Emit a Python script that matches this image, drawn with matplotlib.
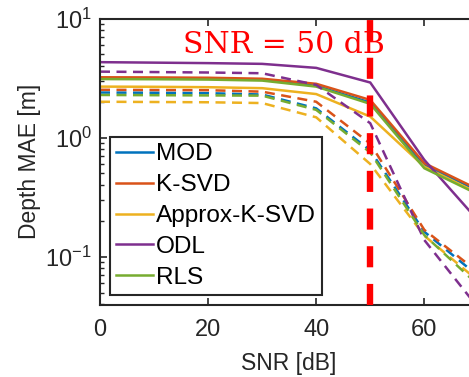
import matplotlib
matplotlib.use("Agg")
import matplotlib.pyplot as plt
from matplotlib.ticker import LogLocator, NullFormatter

# ---- data ----
snr = [0, 10, 20, 30, 40, 50, 60, 70]
labels = ["MOD", "K-SVD", "Approx-K-SVD", "ODL", "RLS"]
colors = ["#0072BD", "#D95319", "#EDB120", "#7E2F8E", "#77AC30"]

solid_mod = [3.14, 3.13, 3.12, 3.07, 2.72, 1.97, 0.59, 0.357]
solid_ksvd = [3.21, 3.20, 3.18, 3.12, 2.83, 2.07, 0.61, 0.367]
solid_approx = [2.68, 2.67, 2.65, 2.60, 2.32, 1.50, 0.57, 0.34]
solid_odl = [4.30, 4.26, 4.22, 4.16, 3.85, 2.90, 0.65, 0.20]
solid_rls = [3.10, 3.09, 3.07, 3.01, 2.68, 1.92, 0.553, 0.333]

dash_mod = [2.39, 2.38, 2.36, 2.30, 1.76, 0.78, 0.162, 0.0686]
dash_ksvd = [2.52, 2.51, 2.50, 2.43, 2.00, 0.89, 0.168, 0.074]
dash_approx = [2.00, 1.99, 1.98, 1.95, 1.48, 0.60, 0.150, 0.0625]
dash_odl = [3.58, 3.55, 3.52, 3.47, 2.77, 1.32, 0.138, 0.037]
dash_rls = [2.28, 2.27, 2.26, 2.25, 1.71, 0.75, 0.152, 0.0575]

solids = [solid_mod, solid_ksvd, solid_approx, solid_odl, solid_rls]
dashes = [dash_mod, dash_ksvd, dash_approx, dash_odl, dash_rls]

xticks = [0, 20, 40, 60]
marker_snr = 50
annot = "SNR = 50 dB"

plt.rcParams['font.family'] = ['Liberation Sans', 'DejaVu Sans']
plt.rcParams['mathtext.fontset'] = 'custom'
plt.rcParams['mathtext.rm'] = 'Liberation Sans'
plt.rcParams['mathtext.it'] = 'Liberation Sans'
plt.rcParams['mathtext.default'] = 'regular'

W, H = 469, 377
fig = plt.figure(figsize=(W / 100, H / 100), dpi=100)
left = 100 / W
bottom = (H - 305) / H
top = (H - 18.5) / H
xmax = 70
width = (xmax * 108.1 / 20) / W
ax = fig.add_axes([left, bottom, width, top - bottom])

tc = "#262626"
lw = 1.8
handles = []
for s, c, lab in zip(solids, colors, labels):
    h, = ax.plot(snr, s, color=c, lw=lw, label=lab, solid_joinstyle='miter')
    handles.append(h)
for d, c in zip(dashes, colors):
    ax.plot(snr, d, color=c, lw=lw, linestyle=(0, (4.0, 2.6)))

ylo, yhi = 0.0393, 10
ax.plot([marker_snr, marker_snr], [ylo, yhi], color="#FF0000", lw=4.6,
        linestyle=(0, (3.3, 2.6)), solid_capstyle='butt', dash_capstyle='butt', zorder=5)

ax.set_yscale('log')
ax.set_xlim(0, xmax)
ax.set_ylim(ylo, yhi)
ax.set_xticks(xticks)
ax.yaxis.set_major_locator(LogLocator(base=10, numticks=10))
ax.yaxis.set_minor_locator(LogLocator(base=10, subs=range(2, 10), numticks=20))
ax.yaxis.set_minor_formatter(NullFormatter())

for sp in ax.spines.values():
    sp.set_color(tc)
    sp.set_linewidth(1.5)
ax.tick_params(axis='both', which='both', direction='in', top=True, right=True,
               colors=tc, labelsize=17)
ax.tick_params(which='major', length=5, width=1.2)
ax.tick_params(which='minor', length=3, width=1.0)
ax.tick_params(axis='x', pad=10)
ax.tick_params(axis='y', pad=6)

ax.set_xlabel("SNR [dB]", fontsize=16.5, color=tc, labelpad=8)
ax.set_ylabel("Depth MAE [m]", fontsize=16.5, color=tc, labelpad=3)

ax.text(15.3, 5.12, annot, color="#FF0000", fontsize=21.5,
        family=['DejaVu Serif'], ha='left', va='baseline')

leg = ax.legend(handles=handles, loc='lower left',
                bbox_to_anchor=(110 / W, (H - 295) / H), bbox_transform=fig.transFigure,
                borderaxespad=0, fontsize=17.6, frameon=True, fancybox=False,
                handlelength=1.5, handletextpad=0.12, borderpad=0.25,
                labelspacing=0.36)
fr = leg.get_frame()
fr.set_edgecolor(tc)
fr.set_linewidth(1.5)
fr.set_alpha(1)
for t in leg.get_texts():
    t.set_color("black")

fig.savefig("out.png", dpi=100)
